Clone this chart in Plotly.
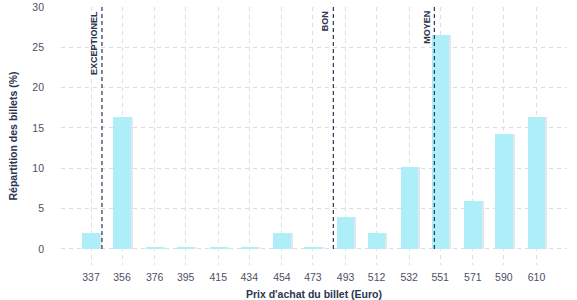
import plotly.graph_objects as go

prices = [337, 356, 376, 395, 415, 434, 454, 473, 493, 512, 532, 551, 571, 590, 610]
shares = [2.0, 16.3, 0.15, 0.15, 0.15, 0.15, 2.0, 0.15, 4.0, 2.0, 10.1, 26.5, 6.0, 14.2, 16.3]
ref_names = ["EXCEPTIONEL", "BON", "MOYEN"]
ref_prices = [343.7, 485.5, 547.4]

TXT = "#2a3550"
TICK = "#4a5266"
BAR = "#aeeef8"
SHADOW = "#e3e6ea"

fig = go.Figure()
fig.add_trace(go.Bar(x=[p + 1.3 for p in prices], y=shares, width=10.6,
                     marker=dict(color=SHADOW, line=dict(width=0)),
                     hoverinfo="skip", showlegend=False))
fig.add_trace(go.Bar(x=prices, y=shares, width=10.6,
                     marker=dict(color=BAR, line=dict(width=0)),
                     showlegend=False))

for name, xp in zip(ref_names, ref_prices):
    fig.add_shape(type="line", x0=xp, x1=xp, y0=0, y1=30, xref="x", yref="y",
                  line=dict(color=TXT, width=1.2, dash="4px,3px"))
    fig.add_annotation(x=xp, y=30, xref="x", yref="y", text=name,
                       textangle=-90, showarrow=False, xanchor="right", yanchor="top",
                       xshift=-1, yshift=-2,
                       font=dict(family="Liberation Sans, Arial", size=9, color=TXT,
                                 weight="bold"))

grid = dict(showgrid=True, gridcolor="#dddddd", griddash="4px,4px", gridwidth=1)
fig.update_layout(
    width=577, height=300,
    margin=dict(l=61, r=10, t=7, b=35),
    paper_bgcolor="white", plot_bgcolor="white",
    barmode="overlay", bargap=0,
    font=dict(family="Liberation Sans, Arial", color=TICK, size=10),
    xaxis=dict(range=[318.6, 628.7], tickvals=prices, ticktext=[str(p) for p in prices],
               zeroline=False, showline=False, ticks="", ticklabelstandoff=4,
               automargin=False,
               tickfont=dict(size=10.5, color=TICK),
               title=dict(text="Prix d'achat du billet (Euro)", standoff=9,
                          font=dict(size=10.5, color=TXT, weight="bold")),
               **grid),
    yaxis=dict(range=[-2, 30], tickvals=[0, 5, 10, 15, 20, 25, 30],
               zeroline=False, showline=False, ticks="", ticklabelstandoff=16,
               automargin=False,
               tickfont=dict(size=10.5, color=TICK),
               title=dict(text="Répartition des billets (%)", standoff=12,
                          font=dict(size=10.5, color=TXT, weight="bold")),
               **grid),
)
fig.write_html("out.html")
